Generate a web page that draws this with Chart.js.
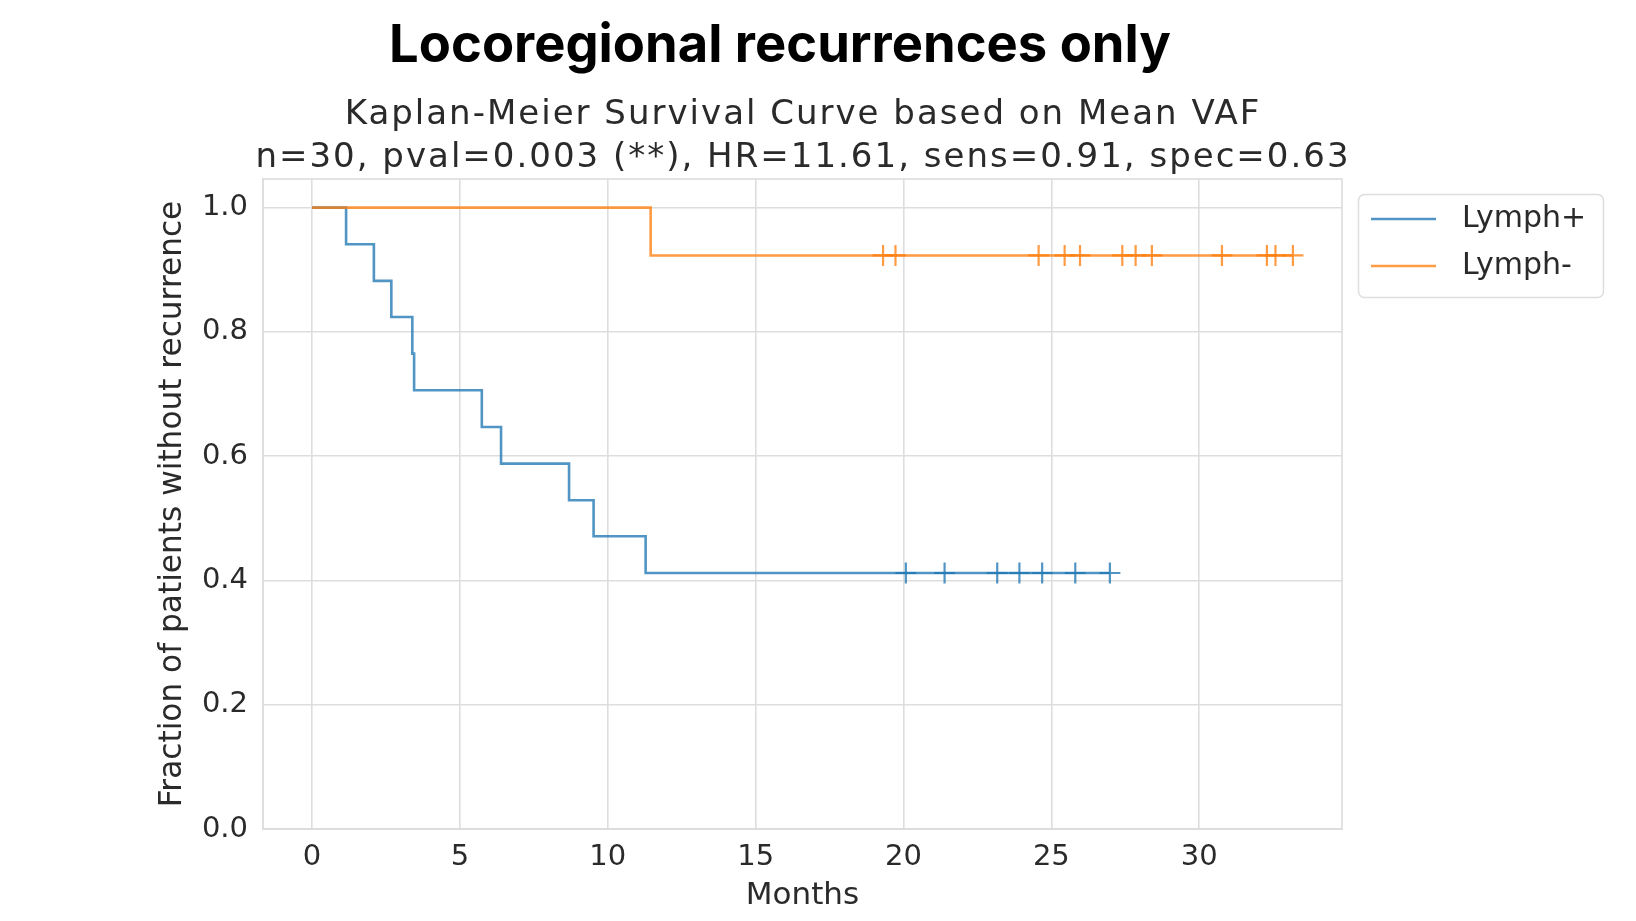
<!DOCTYPE html>
<html><head><meta charset="utf-8">
<script src="https://cdn.jsdelivr.net/npm/chart.js@4"></script>
<style>html,body{margin:0;padding:0;background:#fff}#wrap{width:1636px;height:921px;position:relative}</style>
</head><body><div id="wrap"><canvas id="c" width="1636" height="921"></canvas></div>
<script>
const mainTitle = 'Locoregional recurrences only';
const subtitleLines = ['Kaplan-Meier Survival Curve based on Mean VAF', 'n=30, pval=0.003 (**), HR=11.61, sens=0.91, spec=0.63'];
const xAxisLabel = 'Months';
const yAxisLabel = 'Fraction of patients without recurrence';
const seriesLabels = ['Lymph+', 'Lymph-'];
const lymphPosEventTimes = [0, 1.15, 2.09, 2.68, 3.39, 3.45, 5.74, 6.39, 8.69, 9.52, 11.28];
const lymphPosSurvival = [1, 0.941, 0.882, 0.824, 0.765, 0.706, 0.647, 0.588, 0.529, 0.471, 0.412];
const lymphPosCensorTimes = [20.08, 21.39, 23.17, 23.92, 24.69, 25.81, 26.98];
const lymphNegEventTimes = [0, 11.45];
const lymphNegSurvival = [1, 0.923];
const lymphNegCensorTimes = [19.31, 19.73, 24.57, 25.45, 25.97, 27.40, 27.85, 28.40, 30.77, 32.29, 32.58, 33.17];
const xTicks = [0, 5, 10, 15, 20, 25, 30];
const yTicks = [0, 0.2, 0.4, 0.6, 0.8, 1.0];

const BLUE = 'rgba(31,119,180,0.78)';
const ORANGE = 'rgba(255,127,14,0.78)';
const TEXT = '#2a2a2a';
const GRID = '#dddddd';
const FONT = "'DejaVu Sans'";

function survAt(times, surv, t) {
  let s = surv[0];
  for (let i = 0; i < times.length; i++) if (times[i] <= t) s = surv[i];
  return s;
}
function curve(times, surv, censors) {
  const pts = times.map((t, i) => ({x: t, y: surv[i]}));
  const last = Math.max(times[times.length - 1], ...censors);
  pts.push({x: last, y: survAt(times, surv, last)});
  return pts;
}
function censorPts(times, surv, censors) {
  return censors.map(t => ({x: t, y: survAt(times, surv, t)}));
}

const frame = {
  id: 'frame',
  beforeDatasetsDraw(chart) {
    const {ctx, chartArea: a} = chart;
    ctx.save();
    ctx.strokeStyle = GRID; ctx.lineWidth = 1.6;
    ctx.strokeRect(a.left, a.top, a.right - a.left, a.bottom - a.top);
    ctx.restore();
  },
  afterDraw(chart) {
    const {ctx} = chart;
    ctx.save();
    ctx.fillStyle = '#000';
    ctx.font = "700 52.5px Inter";
    ctx.textAlign = 'center'; ctx.textBaseline = 'alphabetic';
    ctx.fillText(mainTitle, 780, 62);
    ctx.fillStyle = TEXT;
    ctx.font = "34px " + FONT;
    try { ctx.letterSpacing = '2px'; } catch (e) {}
    ctx.fillText(subtitleLines[0], 803, 124);
    ctx.fillText(subtitleLines[1], 803, 167);
    try { ctx.letterSpacing = '0px'; } catch (e) {}
    // legend
    const lx = 1358, ly = 194, lw = 245, lh = 103;
    ctx.beginPath();
    ctx.roundRect(lx + 0.5, ly + 0.5, lw, lh, 6);
    ctx.fillStyle = 'rgba(255,255,255,0.9)'; ctx.fill();
    ctx.strokeStyle = GRID; ctx.lineWidth = 1.5; ctx.stroke();
    const cols = [BLUE, ORANGE];
    ctx.font = "30px " + FONT; ctx.textAlign = 'left'; ctx.textBaseline = 'middle';
    seriesLabels.forEach((lab, i) => {
      const y = 219 + i * 47;
      ctx.strokeStyle = cols[i]; ctx.lineWidth = 2.6;
      ctx.beginPath(); ctx.moveTo(1371, y); ctx.lineTo(1436, y); ctx.stroke();
      ctx.fillStyle = TEXT; ctx.fillText(lab, 1462, y);
    });
    ctx.restore();
  }
};

const ctx = document.getElementById('c').getContext('2d');
new Chart(ctx, {
  type: 'line',
  data: {
    datasets: [
      {label: seriesLabels[1], data: curve(lymphNegEventTimes, lymphNegSurvival, lymphNegCensorTimes), borderColor: ORANGE, borderWidth: 2.6, stepped: 'before', pointRadius: 0, fill: false, order: 0},
      {label: seriesLabels[1] + ' censored', data: censorPts(lymphNegEventTimes, lymphNegSurvival, lymphNegCensorTimes), showLine: false, pointStyle: 'cross', pointRadius: 10.5, pointBorderWidth: 2.2, borderColor: ORANGE, backgroundColor: ORANGE, order: 0},
      {label: seriesLabels[0], data: curve(lymphPosEventTimes, lymphPosSurvival, lymphPosCensorTimes), borderColor: BLUE, borderWidth: 2.6, stepped: 'before', pointRadius: 0, fill: false, order: 1},
      {label: seriesLabels[0] + ' censored', data: censorPts(lymphPosEventTimes, lymphPosSurvival, lymphPosCensorTimes), showLine: false, pointStyle: 'cross', pointRadius: 10.5, pointBorderWidth: 2.2, borderColor: BLUE, backgroundColor: BLUE, order: 1}
    ]
  },
  options: {
    responsive: false,
    animation: false,
    layout: {padding: {top: 179, right: 294, left: 150, bottom: 0}},
    plugins: {legend: {display: false}, tooltip: {enabled: false}, title: {display: false}},
    scales: {
      x: {
        type: 'linear', min: -1.66, max: 34.83,
        afterBuildTicks: s => { s.ticks = xTicks.map(v => ({value: v})); },
        afterFit: s => { s.height = 92; },
        grid: {color: GRID, lineWidth: 1.6, drawTicks: false},
        border: {display: true, color: GRID, width: 1.6},
        ticks: {color: TEXT, font: {family: FONT, size: 29}, padding: 11, callback: v => String(v)},
        title: {display: true, text: xAxisLabel, color: TEXT, font: {family: FONT, size: 31}, padding: {top: 0, bottom: 6.5}}
      },
      y: {
        type: 'linear', min: 0, max: 1.046,
        afterBuildTicks: s => { s.ticks = yTicks.map(v => ({value: v})); },
        afterFit: s => { s.width = 113; },
        grid: {color: GRID, lineWidth: 1.6, drawTicks: false},
        border: {display: true, color: GRID, width: 1.6},
        ticks: {color: TEXT, font: {family: FONT, size: 29}, padding: 15, callback: v => v.toFixed(1)},
        title: {display: true, text: yAxisLabel, color: TEXT, font: {family: FONT, size: 31.2}, padding: {top: 4.5, bottom: 0}}
      }
    }
  },
  plugins: [frame]
});
</script>
</body></html>
